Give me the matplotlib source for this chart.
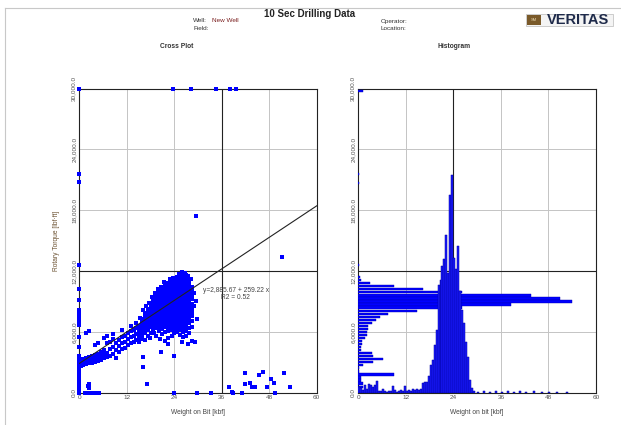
import matplotlib.pyplot as plt
from matplotlib.patches import Rectangle
from matplotlib.ticker import FuncFormatter

plt.rcParams['font.family'] = ['Liberation Sans', 'DejaVu Sans']

# ---- data -------------------------------------------------------------
# cross plot: dense cluster, WOB column -> torque values (thousand lbf-ft)
cluster_cols = [
    (15.0, [5.0, 5.4, 5.8, 6.2, 6.6]),
    (15.75, [5.3, 5.7, 6.1, 6.5, 6.9, 7.3]),
    (16.5, [5.2, 5.9, 6.3, 6.7, 7.1, 7.5, 7.9]),
    (17.25, [5.6, 6.2, 6.5, 6.8, 7.1, 7.4, 7.7, 8.0, 8.3]),
    (18.0, [5.9, 6.5, 6.8, 7.1, 7.4, 7.7, 8.0, 8.3, 8.6, 8.9]),
    (18.75, [6.3, 6.6, 6.9, 7.2, 7.5, 7.8, 8.1, 8.4, 8.7, 9.0, 9.3]),
    (19.5, [5.6, 6.4, 6.7, 7.0, 7.3, 7.6, 7.9, 8.2, 8.5, 8.8, 9.1, 9.4, 9.7]),
    (20.25, [6.1, 6.5, 6.8, 7.1, 7.4, 7.7, 8.0, 8.3, 8.6, 8.9, 9.2, 9.5, 9.8, 10.1]),
    (21.0, [5.8, 6.3, 6.6, 6.9, 7.2, 7.5, 7.8, 8.1, 8.4, 8.7, 9.0, 9.3, 9.6, 9.9, 10.2, 10.4]),
    (21.75, [6.0, 6.5, 6.8, 7.1, 7.4, 7.7, 8.0, 8.3, 8.6, 8.9, 9.2, 9.5, 9.8, 10.1, 10.4, 10.6]),
    (22.5, [5.4, 6.1, 6.4, 6.7, 7.0, 7.3, 7.6, 7.9, 8.2, 8.5, 8.8, 9.1, 9.4, 9.7, 10.0, 10.3, 10.6]),
    (23.25, [6.2, 6.5, 6.8, 7.1, 7.4, 7.7, 8.0, 8.3, 8.6, 8.9, 9.2, 9.5, 9.8, 10.1, 10.4, 10.7, 10.9]),
    (24.0, [5.9, 6.3, 6.6, 6.9, 7.2, 7.5, 7.8, 8.1, 8.4, 8.7, 9.0, 9.3, 9.6, 9.9, 10.2, 10.5, 10.8, 11.1]),
    (24.75, [6.0, 6.4, 6.7, 7.0, 7.3, 7.6, 7.9, 8.2, 8.5, 8.8, 9.1, 9.4, 9.7, 10.0, 10.3, 10.6, 10.9, 11.2, 11.4]),
    (25.5, [5.7, 6.2, 6.5, 6.8, 7.1, 7.4, 7.7, 8.0, 8.3, 8.6, 8.9, 9.2, 9.5, 9.8, 10.1, 10.4, 10.7, 11.0, 11.3, 11.5]),
    (26.25, [5.5, 6.0, 6.4, 6.7, 7.0, 7.3, 7.6, 7.9, 8.2, 8.5, 8.8, 9.1, 9.4, 9.7, 10.0, 10.3, 10.6, 10.9, 11.2, 11.5, 11.8]),
    (27.0, [5.6, 6.1, 6.5, 6.8, 7.1, 7.4, 7.7, 8.0, 8.3, 8.6, 8.9, 9.2, 9.5, 9.8, 10.1, 10.4, 10.7, 11.0, 11.3, 11.6]),
    (27.75, [5.9, 6.4, 6.9, 7.2, 7.5, 7.8, 8.1, 8.4, 8.7, 9.0, 9.3, 9.6, 9.9, 10.2, 10.5, 10.8, 11.1]),
    (28.5, [6.5, 7.1, 7.6, 8.0, 8.4, 8.8, 9.2, 9.6, 10.0, 10.4]),
]

# ragged points along the cluster edges
edge_wob = [14.4, 15.3, 16.1, 16.9, 17.6, 18.4, 19.1, 19.9, 20.7, 21.4, 22.1, 23.0, 23.7,
            25.1, 26.0, 26.8, 27.4, 28.2, 28.9, 29.1, 17.9, 19.0, 20.5, 21.6, 23.5, 25.9]
edge_torque = [6.9, 7.4, 8.2, 8.6, 8.9, 9.4, 9.8, 10.2, 10.4, 10.9, 10.8, 11.2, 11.3,
               11.7, 11.9, 11.8, 11.5, 11.2, 9.8, 8.6, 5.4, 5.9, 5.3, 5.1, 5.6, 5.0]

# lower branch (low WOB, rising torque)
branch_cols = [
    (0.4, [2.6, 2.9, 3.2]),
    (1.0, [2.7, 3.0, 3.3]),
    (1.75, [2.8, 3.1, 3.4, 5.9]),
    (2.5, [2.9, 3.2, 3.5, 6.1]),
    (3.25, [2.9, 3.3, 3.6]),
    (4.0, [3.0, 3.4, 3.7, 4.7]),
    (4.75, [3.1, 3.5, 3.8, 4.9]),
    (5.5, [3.2, 3.6, 4.0]),
    (6.25, [3.4, 3.8, 4.2, 5.4]),
    (7.0, [3.5, 3.9, 4.9, 5.6]),
    (7.75, [3.6, 4.3, 5.0]),
    (8.5, [3.8, 4.5, 5.3, 5.8]),
    (9.25, [3.4, 4.2, 4.9]),
    (10.0, [4.0, 4.6, 5.2]),
    (10.75, [4.3, 4.9, 5.5, 6.2]),
    (11.5, [4.4, 5.0, 5.6]),
    (12.25, [4.7, 5.3, 5.9]),
    (13.0, [4.9, 5.5, 6.1, 6.6]),
    (13.75, [5.0, 5.6, 6.2]),
    (14.25, [5.2, 5.8, 6.4]),
]

# zero-WOB readings
zero_wob_torque = [0.0, 0.3, 0.6, 0.9, 1.2, 1.5, 1.8, 2.1, 2.4, 2.7, 3.0, 3.3, 3.6,
                   4.5, 5.5, 6.7, 7.0, 7.3, 7.6, 7.9, 8.2, 9.1, 10.2, 12.6, 20.8, 21.6, 30.0]

# scattered outliers (WOB kbf, torque thousand lbf-ft)
stray_wob = [29.5, 29.7, 29.3, 28.6, 27.5, 22.3, 20.7, 16.2, 23.9, 16.0, 17.0, 2.5, 2.5, 2.3,
             1.5, 2.0, 2.6, 3.2, 3.8, 4.4, 5.0, 23.9, 29.7, 33.3, 38.9, 41.0, 49.4,
             37.9, 38.7, 41.9, 41.8, 43.2, 44.3, 43.6, 45.4, 46.4, 47.4, 48.5, 49.3, 51.8, 53.3,
             29.6, 51.2, 23.6, 28.2, 34.6, 38.2, 39.5]
stray_torque = [9.0, 7.3, 5.0, 5.1, 4.8, 4.8, 4.0, 2.5, 3.6, 3.55, 0.83, 0.83, 0.47, 0.7,
                0.0, 0.0, 0.0, 0.0, 0.0, 0.0, 0.0, 0.0, 0.0, 0.0, 0.0, 0.0, 0.0,
                0.53, 0.1, 1.97, 0.83, 0.99, 0.6, 0.6, 1.75, 2.04, 0.6, 1.32, 0.93, 1.97, 0.53,
                17.4, 13.4, 30.0, 30.0, 30.0, 30.0, 30.0]

fit_intercept = 2885.67
fit_slope = 259.22
fit_r2 = 0.52

# histogram of WOB (bin centre kbf, bar height on the torque scale)
wob_bins = [0.25, 0.75, 1.25, 1.75, 2.25, 2.75, 3.25, 3.75, 4.25, 4.75, 5.25, 5.75, 6.25, 6.75,
            7.25, 7.75, 8.25, 8.75, 9.25, 9.75, 10.25, 10.75, 11.25, 11.75, 12.25, 12.75, 13.25,
            13.75, 14.25, 14.75, 15.25, 15.75, 16.25, 16.75, 17.25, 17.75, 18.25, 18.75, 19.25,
            19.75, 20.25, 20.75, 21.25, 21.75, 22.25, 22.75, 23.25, 23.75, 24.25, 24.75, 25.25,
            25.75, 26.25, 26.75, 27.25, 27.75, 28.25, 28.75, 29.25, 30.25, 31.75, 33.25, 34.75,
            36.25, 37.75, 39.25, 40.75, 42.25, 44.25, 46.25, 48.25, 50.25, 52.75]
wob_counts = [600, 500, 300, 750, 400, 850, 800, 600, 800, 1150, 200, 150, 350, 150,
              100, 200, 150, 700, 300, 100, 150, 250, 150, 700, 150, 250, 200,
              350, 300, 400, 300, 350, 1000, 1100, 1100, 1600, 2700, 3200, 4700,
              6200, 10600, 11100, 12500, 13200, 15600, 11800, 19500, 21500, 13300, 12200, 14500,
              10000, 8200, 6900, 5000, 3500, 1250, 450, 200, 100, 150, 100, 150,
              100, 150, 100, 150, 100, 150, 100, 100, 100, 100]

# histogram of torque (bin centre lbf-ft, bar length on the WOB scale)
torque_bins = [29800, 21600, 20700, 12600, 11400, 11100, 10800, 10500, 10200, 9900, 9600,
               9300, 9000, 8700, 8400, 8100, 7800, 7500, 7200, 6900, 6600, 6300, 6000,
               5700, 5400, 5100, 4800, 4500, 4200, 3900, 3600, 3300, 3000, 2700, 2400,
               2100, 1800, 1500, 1200, 900, 600, 300, 0]
torque_counts = [1.3, 0.2, 0.2, 0.3, 0.4, 0.8, 2.9, 9.0, 16.4, 26.3, 43.5,
                 50.8, 53.9, 38.5, 26.1, 14.7, 7.4, 5.6, 4.4, 3.4, 2.4, 2.4, 2.1,
                 2.1, 1.7, 1.0, 1.0, 0.8, 0.6, 3.4, 3.6, 6.3, 3.7, 1.3, 0.3,
                 0.2, 9.0, 0.8, 0.8, 1.1, 1.3, 0.5, 0.4]

x_ticks = [0, 12, 24, 36, 48, 60]
y_ticks = [0, 6000, 12000, 18000, 24000, 30000]

# ---- build point lists -------------------------------------------------
wob_pts, torque_pts = [], []
for cols in (cluster_cols, branch_cols):
    for w, ts in cols:
        for t in ts:
            wob_pts.append(w)
            torque_pts.append(t * 1000)
for t in zero_wob_torque:
    wob_pts.append(0.0)
    torque_pts.append(t * 1000)
for w, t in zip(stray_wob + edge_wob, stray_torque + edge_torque):
    wob_pts.append(w)
    torque_pts.append(t * 1000)

# ---- figure -------------------------------------------------------------
BLUE = '#0000ff'
TXT = '#555555'
fig = plt.figure(figsize=(6.21, 4.25), dpi=100)

# page frame
fig.add_artist(plt.Line2D([5 / 621, 1], [1 - 8 / 425, 1 - 8 / 425], color='#c8c8c8', lw=0.8))
fig.add_artist(plt.Line2D([5 / 621, 5 / 621], [0, 1 - 8 / 425], color='#c8c8c8', lw=0.8))

fig.text(310 / 621, 1 - 14 / 425, '10 Sec Drilling Data', ha='center', va='center',
         fontsize=7, fontweight='bold', color='#222222')
fig.text(193 / 621, 1 - 21 / 425, 'Well:', fontsize=4.6, va='center', color='#333333')
fig.text(212 / 621, 1 - 21 / 425, 'New Well', fontsize=4.6, va='center', color='#7a1f1f')
fig.text(193 / 621, 1 - 28 / 425, 'Field:', fontsize=4.6, va='center', color='#333333')
fig.text(381 / 621, 1 - 21 / 425, 'Operator:', fontsize=4.6, va='center', color='#333333')
fig.text(381 / 621, 1 - 28 / 425, 'Location:', fontsize=4.6, va='center', color='#333333')
fig.text(177 / 621, 1 - 47 / 425, 'Cross Plot', ha='center', va='center',
         fontsize=4.8, fontweight='bold', color='#333333')
fig.text(454 / 621, 1 - 47 / 425, 'Histogram', ha='center', va='center',
         fontsize=4.8, fontweight='bold', color='#333333')

# logo
fig.add_artist(Rectangle((526 / 621, 1 - 26 / 425), 87 / 621, 12 / 425, transform=fig.transFigure,
                         facecolor='#f4f4f4', edgecolor='#bbbbbb', lw=0.5))
fig.add_artist(Rectangle((527 / 621, 1 - 25 / 425), 14 / 621, 10 / 425, transform=fig.transFigure,
                         facecolor='#7a5a2a', edgecolor='none'))
fig.text(534 / 621, 1 - 20 / 425, 'SM', ha='center', va='center', fontsize=3, color='#e8d8b0')
fig.text(578 / 621, 1 - 20 / 425, 'VERITAS', ha='center', va='center', fontsize=10.5,
         fontweight='bold', color='#1e2a4a')

ax1 = fig.add_axes([79.3 / 621, 1 - 392.7 / 425, 237.4 / 621, 304 / 425])
ax2 = fig.add_axes([358.3 / 621, 1 - 392.7 / 425, 237.7 / 621, 304 / 425])

fmt = FuncFormatter(lambda v, p: f'{v:,.1f}')
for ax in (ax1, ax2):
    ax.set_xlim(0, 60)
    ax.set_ylim(0, 30000)
    ax.set_xticks(x_ticks)
    ax.set_yticks(y_ticks)
    ax.yaxis.set_major_formatter(fmt)
    ax.tick_params(length=0, pad=2, labelsize=4.6, colors=TXT)
    for lbl in ax.get_yticklabels():
        lbl.set_rotation(90)
        lbl.set_va('center')
    ax.grid(True, color='#c4c4c4', lw=0.7)
    ax.set_axisbelow(True)
    for s in ax.spines.values():
        s.set_color('#222222')
        s.set_linewidth(0.8)
    ax.axhline(12000, color='#222222', lw=0.8, zorder=1)

ax1.axvline(36, color='#222222', lw=0.8, zorder=1)
ax2.axvline(24, color='#222222', lw=0.8, zorder=1)

# cross plot
ax1.scatter(wob_pts, torque_pts, marker='s', s=6, color=BLUE, linewidths=0, zorder=3, clip_on=False)
ax1.plot([0, 60], [fit_intercept, fit_intercept + fit_slope * 60], color='#222222', lw=0.8, zorder=4)
ax1.text(39.5, 10050, f'y={fit_intercept:,.2f} + {fit_slope:.2f} x', ha='center', va='center',
         fontsize=4.8, color='#444444', zorder=5)
ax1.text(39.5, 9350, f'R2 = {fit_r2:.2f}', ha='center', va='center', fontsize=4.8,
         color='#444444', zorder=5)
ax1.set_xlabel('Weight on Bit [kbf]', fontsize=4.8, color='#444444', labelpad=6)
ax1.set_ylabel('Rotary Torque [lbf·ft]', fontsize=4.8, color='#6a5030', labelpad=8)

# histogram
ax2.barh(torque_bins, torque_counts, height=220, color=BLUE, edgecolor='#0000b0', lw=0.3, zorder=3)
ax2.bar(wob_bins, wob_counts, width=0.5, color='#1a1aff', edgecolor='#0000a0', lw=0.35, zorder=3)
ax2.set_xlabel('Weight on bit [kbf]', fontsize=4.8, color='#444444', labelpad=6)

fig.savefig('out.png', dpi=100)
